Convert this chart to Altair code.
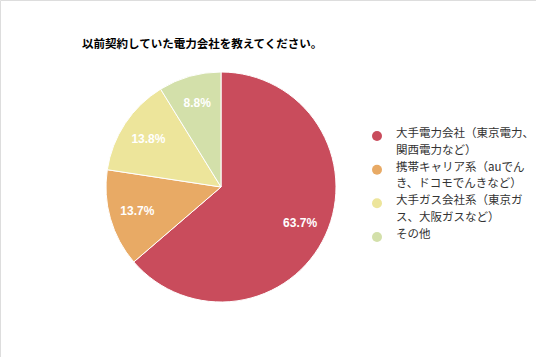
import altair as alt
import pandas as pd

categories = ["大手電力会社（東京電力、関西電力など）", "携帯キャリア系（auでんき、ドコモでんきなど）",
              "大手ガス会社系（東京ガス、大阪ガスなど）", "その他"]
legend_lines = ["大手電力会社（東京電力、\n関西電力など）", "携帯キャリア系（auでん\nき、ドコモでんきなど）",
                "大手ガス会社系（東京ガ\nス、大阪ガスなど）", "その他"]
values = [63.7, 13.7, 13.8, 8.8]
labels = ["63.7%", "13.7%", "13.8%", "8.8%"]
colors = ["#C94C5C", "#E8AA65", "#EDE59B", "#D3E0AA"]
title_text = "以前契約していた電力会社を教えてください。"

df = pd.DataFrame({
    "cat": categories,
    "legend": legend_lines,
    "value": values,
    "label": labels,
    "order": list(range(len(categories))),
})

cx, cy = 221, 187
color = alt.Color("cat:N", scale=alt.Scale(domain=categories, range=colors), legend=None)
base = alt.Chart(df)

pie = base.mark_arc(outerRadius=115, stroke="white", strokeWidth=1).encode(
    theta=alt.Theta("value:Q", stack=True),
    order=alt.Order("order:Q"),
    color=color,
    x=alt.value(cx), y=alt.value(cy),
)

pct = base.mark_text(radius=87, color="white", fontWeight="bold", fontSize=12,
                     font="Liberation Sans").encode(
    theta=alt.Theta("value:Q", stack=True),
    order=alt.Order("order:Q"),
    text="label:N",
    x=alt.value(cx), y=alt.value(cy),
)

ypos = alt.Y("order:Q", scale=alt.Scale(domain=[0, 3], range=[136, 237]), axis=None)

sym = base.mark_point(filled=True, shape="circle", size=100, opacity=1).encode(
    x=alt.value(377), y=ypos, color=color,
)

leg = base.mark_text(align="left", baseline="top", dy=-8, lineBreak="\n", lineHeight=16.5,
                     fontSize=11.5, font="Noto Sans CJK JP", color="#333333").encode(
    x=alt.value(396), y=ypos, text="legend:N",
)

title = alt.Chart(pd.DataFrame({"t": [title_text]})).mark_text(
    align="left", baseline="middle", fontSize=11.5, fontWeight="bold",
    font="Noto Sans CJK JP", color="#000000"
).encode(x=alt.value(82), y=alt.value(45), text="t:N")

chart = alt.layer(pie, pct, sym, leg, title).properties(
    width=536, height=357, autosize=alt.AutoSizeParams(type="none"), padding=0,
).configure_view(stroke=None).configure(background="white")

chart.save("out.html", embed_options={"renderer": "svg", "actions": False})
